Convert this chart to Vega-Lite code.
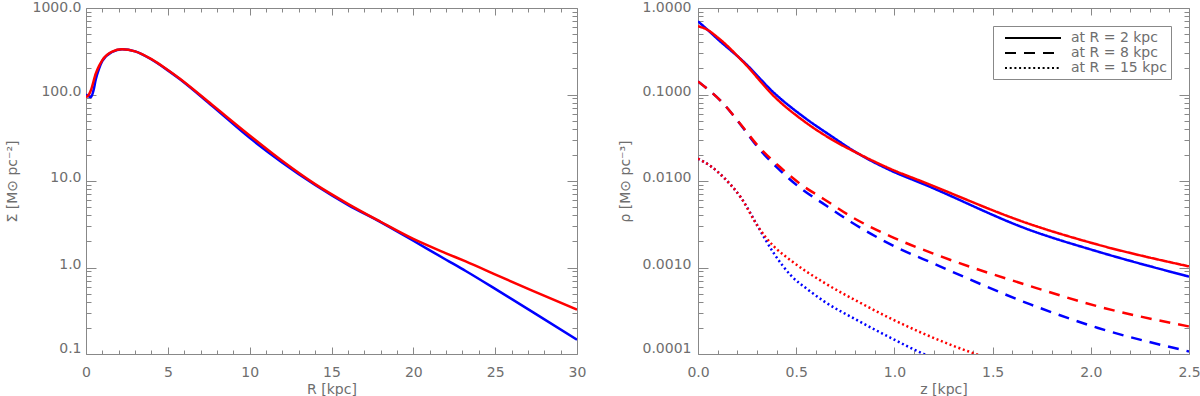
{
  "$schema": "https://vega.github.io/schema/vega-lite/v6.json",
  "padding": {"left": 5, "top": 0, "right": 5, "bottom": 0},
  "background": "white",
  "spacing": 32,
  "resolve": {"scale": {"strokeDash": "independent", "color": "independent"}, "legend": {"strokeDash": "independent", "color": "independent"}},
  "config": {
    "view": {"stroke": null},
    "font": "DejaVu Sans",
    "axis": {
      "domainColor": "#888888",
      "tickColor": "#888888",
      "labelColor": "#6e6e6e",
      "titleColor": "#6e6e6e",
      "labelFont": "DejaVu Sans",
      "titleFont": "DejaVu Sans",
      "labelFontSize": 14,
      "titleFontSize": 14,
      "titleFontWeight": "normal",
      "grid": false,
      "labelOverlap": false,
      "labelBound": false,
      "domainWidth": 1,
      "tickWidth": 1
    }
  },
  "datasets": {
    "sigma": [
      {"R": 0, "Sigma": 100, "model": "blue"},
      {"R": 0.3, "Sigma": 93, "model": "blue"},
      {"R": 0.45, "Sigma": 110, "model": "blue"},
      {"R": 0.6, "Sigma": 150, "model": "blue"},
      {"R": 0.8, "Sigma": 200, "model": "blue"},
      {"R": 1.0, "Sigma": 245, "model": "blue"},
      {"R": 1.6, "Sigma": 310, "model": "blue"},
      {"R": 2.2, "Sigma": 333, "model": "blue"},
      {"R": 3.0, "Sigma": 315, "model": "blue"},
      {"R": 4.0, "Sigma": 254, "model": "blue"},
      {"R": 5.0, "Sigma": 190, "model": "blue"},
      {"R": 5.7, "Sigma": 152, "model": "blue"},
      {"R": 7.7, "Sigma": 74, "model": "blue"},
      {"R": 10, "Sigma": 31.5, "model": "blue"},
      {"R": 12, "Sigma": 16.3, "model": "blue"},
      {"R": 14, "Sigma": 9.0, "model": "blue"},
      {"R": 16, "Sigma": 5.3, "model": "blue"},
      {"R": 18, "Sigma": 3.35, "model": "blue"},
      {"R": 20, "Sigma": 2.04, "model": "blue"},
      {"R": 22, "Sigma": 1.23, "model": "blue"},
      {"R": 23.2, "Sigma": 0.912, "model": "blue"},
      {"R": 25.2, "Sigma": 0.537, "model": "blue"},
      {"R": 27.3, "Sigma": 0.305, "model": "blue"},
      {"R": 30, "Sigma": 0.146, "model": "blue"},
      {"R": 0, "Sigma": 93, "model": "red"},
      {"R": 0.15, "Sigma": 98, "model": "red"},
      {"R": 0.3, "Sigma": 112, "model": "red"},
      {"R": 0.6, "Sigma": 175, "model": "red"},
      {"R": 0.8, "Sigma": 214, "model": "red"},
      {"R": 1.0, "Sigma": 250, "model": "red"},
      {"R": 1.6, "Sigma": 313, "model": "red"},
      {"R": 2.2, "Sigma": 333, "model": "red"},
      {"R": 3.0, "Sigma": 315, "model": "red"},
      {"R": 4.0, "Sigma": 256, "model": "red"},
      {"R": 5.0, "Sigma": 192, "model": "red"},
      {"R": 5.7, "Sigma": 154, "model": "red"},
      {"R": 7.7, "Sigma": 76, "model": "red"},
      {"R": 10, "Sigma": 33.6, "model": "red"},
      {"R": 12, "Sigma": 17.0, "model": "red"},
      {"R": 14, "Sigma": 9.2, "model": "red"},
      {"R": 16, "Sigma": 5.45, "model": "red"},
      {"R": 18, "Sigma": 3.38, "model": "red"},
      {"R": 20, "Sigma": 2.14, "model": "red"},
      {"R": 22, "Sigma": 1.46, "model": "red"},
      {"R": 23.2, "Sigma": 1.175, "model": "red"},
      {"R": 25.2, "Sigma": 0.80, "model": "red"},
      {"R": 27.3, "Sigma": 0.537, "model": "red"},
      {"R": 30, "Sigma": 0.325, "model": "red"}
    ],
    "rho": [
      {"z": 0, "rho": 0.701, "model": "blue", "profile": "at R = 2 kpc"},
      {"z": 0.05, "rho": 0.556, "model": "blue", "profile": "at R = 2 kpc"},
      {"z": 0.1, "rho": 0.437, "model": "blue", "profile": "at R = 2 kpc"},
      {"z": 0.236, "rho": 0.235, "model": "blue", "profile": "at R = 2 kpc"},
      {"z": 0.389, "rho": 0.1035, "model": "blue", "profile": "at R = 2 kpc"},
      {"z": 0.54, "rho": 0.0546, "model": "blue", "profile": "at R = 2 kpc"},
      {"z": 0.68, "rho": 0.0329, "model": "blue", "profile": "at R = 2 kpc"},
      {"z": 0.813, "rho": 0.0209, "model": "blue", "profile": "at R = 2 kpc"},
      {"z": 0.98, "rho": 0.01327, "model": "blue", "profile": "at R = 2 kpc"},
      {"z": 1.152, "rho": 0.00914, "model": "blue", "profile": "at R = 2 kpc"},
      {"z": 1.696, "rho": 0.00268, "model": "blue", "profile": "at R = 2 kpc"},
      {"z": 2.035, "rho": 0.00153, "model": "blue", "profile": "at R = 2 kpc"},
      {"z": 2.5, "rho": 0.000785, "model": "blue", "profile": "at R = 2 kpc"},
      {"z": 0, "rho": 0.614, "model": "red", "profile": "at R = 2 kpc"},
      {"z": 0.041, "rho": 0.571, "model": "red", "profile": "at R = 2 kpc"},
      {"z": 0.1, "rho": 0.457, "model": "red", "profile": "at R = 2 kpc"},
      {"z": 0.236, "rho": 0.2305, "model": "red", "profile": "at R = 2 kpc"},
      {"z": 0.389, "rho": 0.0944, "model": "red", "profile": "at R = 2 kpc"},
      {"z": 0.54, "rho": 0.0491, "model": "red", "profile": "at R = 2 kpc"},
      {"z": 0.68, "rho": 0.0303, "model": "red", "profile": "at R = 2 kpc"},
      {"z": 0.813, "rho": 0.0209, "model": "red", "profile": "at R = 2 kpc"},
      {"z": 0.98, "rho": 0.0138, "model": "red", "profile": "at R = 2 kpc"},
      {"z": 1.152, "rho": 0.00964, "model": "red", "profile": "at R = 2 kpc"},
      {"z": 1.696, "rho": 0.00314, "model": "red", "profile": "at R = 2 kpc"},
      {"z": 2.035, "rho": 0.00184, "model": "red", "profile": "at R = 2 kpc"},
      {"z": 2.5, "rho": 0.00103, "model": "red", "profile": "at R = 2 kpc"},
      {"z": 0, "rho": 0.1415, "model": "blue", "profile": "at R = 8 kpc"},
      {"z": 0.132, "rho": 0.0772, "model": "blue", "profile": "at R = 8 kpc"},
      {"z": 0.219, "rho": 0.0441, "model": "blue", "profile": "at R = 8 kpc"},
      {"z": 0.305, "rho": 0.0245, "model": "blue", "profile": "at R = 8 kpc"},
      {"z": 0.407, "rho": 0.014, "model": "blue", "profile": "at R = 8 kpc"},
      {"z": 0.524, "rho": 0.0082, "model": "blue", "profile": "at R = 8 kpc"},
      {"z": 0.652, "rho": 0.00521, "model": "blue", "profile": "at R = 8 kpc"},
      {"z": 0.779, "rho": 0.00336, "model": "blue", "profile": "at R = 8 kpc"},
      {"z": 0.983, "rho": 0.00184, "model": "blue", "profile": "at R = 8 kpc"},
      {"z": 1.212, "rho": 0.00108, "model": "blue", "profile": "at R = 8 kpc"},
      {"z": 1.696, "rho": 0.000372, "model": "blue", "profile": "at R = 8 kpc"},
      {"z": 2.037, "rho": 0.0002, "model": "blue", "profile": "at R = 8 kpc"},
      {"z": 2.5, "rho": 0.000107, "model": "blue", "profile": "at R = 8 kpc"},
      {"z": 0, "rho": 0.1415, "model": "red", "profile": "at R = 8 kpc"},
      {"z": 0.132, "rho": 0.0772, "model": "red", "profile": "at R = 8 kpc"},
      {"z": 0.219, "rho": 0.0447, "model": "red", "profile": "at R = 8 kpc"},
      {"z": 0.305, "rho": 0.0255, "model": "red", "profile": "at R = 8 kpc"},
      {"z": 0.407, "rho": 0.0152, "model": "red", "profile": "at R = 8 kpc"},
      {"z": 0.524, "rho": 0.00914, "model": "red", "profile": "at R = 8 kpc"},
      {"z": 0.652, "rho": 0.00596, "model": "red", "profile": "at R = 8 kpc"},
      {"z": 0.779, "rho": 0.00389, "model": "red", "profile": "at R = 8 kpc"},
      {"z": 0.983, "rho": 0.00228, "model": "red", "profile": "at R = 8 kpc"},
      {"z": 1.212, "rho": 0.00141, "model": "red", "profile": "at R = 8 kpc"},
      {"z": 1.696, "rho": 0.000605, "model": "red", "profile": "at R = 8 kpc"},
      {"z": 2.037, "rho": 0.000355, "model": "red", "profile": "at R = 8 kpc"},
      {"z": 2.5, "rho": 0.000208, "model": "red", "profile": "at R = 8 kpc"},
      {"z": 0, "rho": 0.01813, "model": "blue", "profile": "at R = 15 kpc"},
      {"z": 0.066, "rho": 0.01476, "model": "blue", "profile": "at R = 15 kpc"},
      {"z": 0.132, "rho": 0.01092, "model": "blue", "profile": "at R = 15 kpc"},
      {"z": 0.219, "rho": 0.0064, "model": "blue", "profile": "at R = 15 kpc"},
      {"z": 0.305, "rho": 0.00298, "model": "blue", "profile": "at R = 15 kpc"},
      {"z": 0.346, "rho": 0.00205, "model": "blue", "profile": "at R = 15 kpc"},
      {"z": 0.387, "rho": 0.00145, "model": "blue", "profile": "at R = 15 kpc"},
      {"z": 0.474, "rho": 0.000805, "model": "blue", "profile": "at R = 15 kpc"},
      {"z": 0.56, "rho": 0.000554, "model": "blue", "profile": "at R = 15 kpc"},
      {"z": 0.642, "rho": 0.000406, "model": "blue", "profile": "at R = 15 kpc"},
      {"z": 0.815, "rho": 0.000243, "model": "blue", "profile": "at R = 15 kpc"},
      {"z": 0.983, "rho": 0.000153, "model": "blue", "profile": "at R = 15 kpc"},
      {"z": 1.151, "rho": 0.0000998, "model": "blue", "profile": "at R = 15 kpc"},
      {"z": 1.212, "rho": 0.000088, "model": "blue", "profile": "at R = 15 kpc"},
      {"z": 0, "rho": 0.01813, "model": "red", "profile": "at R = 15 kpc"},
      {"z": 0.066, "rho": 0.01476, "model": "red", "profile": "at R = 15 kpc"},
      {"z": 0.132, "rho": 0.01092, "model": "red", "profile": "at R = 15 kpc"},
      {"z": 0.219, "rho": 0.0064, "model": "red", "profile": "at R = 15 kpc"},
      {"z": 0.305, "rho": 0.00298, "model": "red", "profile": "at R = 15 kpc"},
      {"z": 0.346, "rho": 0.00222, "model": "red", "profile": "at R = 15 kpc"},
      {"z": 0.387, "rho": 0.00175, "model": "red", "profile": "at R = 15 kpc"},
      {"z": 0.474, "rho": 0.0012, "model": "red", "profile": "at R = 15 kpc"},
      {"z": 0.642, "rho": 0.000668, "model": "red", "profile": "at R = 15 kpc"},
      {"z": 0.815, "rho": 0.000403, "model": "red", "profile": "at R = 15 kpc"},
      {"z": 0.983, "rho": 0.000256, "model": "red", "profile": "at R = 15 kpc"},
      {"z": 1.151, "rho": 0.000171, "model": "red", "profile": "at R = 15 kpc"},
      {"z": 1.426, "rho": 0.000098, "model": "red", "profile": "at R = 15 kpc"},
      {"z": 1.49, "rho": 0.000088, "model": "red", "profile": "at R = 15 kpc"}
    ]
  },
  "hconcat": [
    {
      "width": 491,
      "height": 346,
      "data": {"name": "sigma"},
      "layer": [
        {
          "transform": [{"filter": "datum.model === 'blue'"}],
          "mark": {"type": "line", "strokeWidth": 2.5, "interpolate": "monotone", "clip": true},
          "encoding": {
            "x": {
              "field": "R", "type": "quantitative",
              "scale": {"domain": [0, 30], "nice": false, "zero": false},
              "axis": {
                "orient": "bottom", "title": "R [kpc]",
                "values": [0,1,2,3,4,5,6,7,8,9,10,11,12,13,14,15,16,17,18,19,20,21,22,23,24,25,26,27,28,29,30],
                "format": "d",
                "labelExpr": "datum.value % 5 === 0 ? datum.label : ''",
                "tickSize": -7,
                "tickDash": {"condition": {"test": "datum.value % 5 !== 0", "value": [4, 30]}, "value": [30, 0]},
                "labelPadding": 18, "titlePadding": 3, "labelFlush": false
              }
            },
            "y": {
              "field": "Sigma", "type": "quantitative",
              "scale": {"type": "log", "domain": [0.1, 1000], "nice": false},
              "axis": {
                "orient": "left", "title": "Σ [M⊙ pc⁻²]",
                "values": [0.1,0.2,0.3,0.4,0.5,0.6,0.7,0.8,0.9,1,2,3,4,5,6,7,8,9,10,20,30,40,50,60,70,80,90,100,200,300,400,500,600,700,800,900,1000],
                "format": ".1f",
                "labelExpr": "abs(log(datum.value)/LN10 - round(log(datum.value)/LN10)) > 0.01 ? '' : datum.label",
                "tickSize": -10,
                "tickDash": {"condition": {"test": "abs(log(datum.value)/LN10 - round(log(datum.value)/LN10)) > 0.01", "value": [5, 30]}, "value": [30, 0]},
                "labelPadding": 15, "titlePadding": 13, "labelFlush": true, "labelFlushOffset": 4.5, "labelOffset": -3.5
              }
            },
            "color": {"field": "model", "type": "nominal", "scale": {"domain": ["blue", "red"], "range": ["#0000ff", "#ff0000"]}, "legend": null}
          }
        },
        {
          "transform": [{"filter": "datum.model === 'red'"}],
          "mark": {"type": "line", "strokeWidth": 2.5, "interpolate": "monotone", "clip": true},
          "encoding": {
            "x": {
              "field": "R", "type": "quantitative",
              "axis": {
                "orient": "top", "title": null, "labels": false,
                "values": [0,1,2,3,4,5,6,7,8,9,10,11,12,13,14,15,16,17,18,19,20,21,22,23,24,25,26,27,28,29,30],
                "tickSize": -7,
                "tickDash": {"condition": {"test": "datum.value % 5 !== 0", "value": [4, 30]}, "value": [30, 0]}
              }
            },
            "y": {
              "field": "Sigma", "type": "quantitative",
              "axis": {
                "orient": "right", "title": null, "labels": false,
                "values": [0.1,0.2,0.3,0.4,0.5,0.6,0.7,0.8,0.9,1,2,3,4,5,6,7,8,9,10,20,30,40,50,60,70,80,90,100,200,300,400,500,600,700,800,900,1000],
                "tickSize": -10,
                "tickDash": {"condition": {"test": "abs(log(datum.value)/LN10 - round(log(datum.value)/LN10)) > 0.01", "value": [5, 30]}, "value": [30, 0]}
              }
            },
            "color": {"field": "model", "type": "nominal", "legend": null}
          }
        }
      ],
      "resolve": {"axis": {"x": "independent", "y": "independent"}}
    },
    {
      "width": 491,
      "height": 346,
      "data": {"name": "rho"},
      "layer": [
        {
          "transform": [{"filter": "datum.model === 'blue'"}],
          "mark": {"type": "line", "strokeWidth": 2.5, "interpolate": "monotone", "clip": true},
          "encoding": {
            "x": {
              "field": "z", "type": "quantitative",
              "scale": {"domain": [0, 2.5], "nice": false, "zero": false},
              "axis": {
                "orient": "bottom", "title": "z [kpc]",
                "values": [0,0.1,0.2,0.3,0.4,0.5,0.6,0.7,0.8,0.9,1,1.1,1.2,1.3,1.4,1.5,1.6,1.7,1.8,1.9,2,2.1,2.2,2.3,2.4,2.5],
                "format": ".1f",
                "labelExpr": "abs(datum.value*2 - round(datum.value*2)) > 0.001 ? '' : datum.label",
                "tickSize": -7,
                "tickDash": {"condition": {"test": "abs(datum.value*2 - round(datum.value*2)) > 0.001", "value": [4, 30]}, "value": [30, 0]},
                "labelPadding": 18, "titlePadding": 3, "labelFlush": false
              }
            },
            "y": {
              "field": "rho", "type": "quantitative",
              "scale": {"type": "log", "domain": [0.0001, 1], "nice": false},
              "axis": {
                "orient": "left", "title": "ρ [M⊙ pc⁻³]",
                "values": [0.0001,0.0002,0.0003,0.0004,0.0005,0.0006,0.0007,0.0008,0.0009,0.001,0.002,0.003,0.004,0.005,0.006,0.007,0.008,0.009,0.01,0.02,0.03,0.04,0.05,0.06,0.07,0.08,0.09,0.1,0.2,0.3,0.4,0.5,0.6,0.7,0.8,0.9,1],
                "format": ".4f",
                "labelExpr": "abs(log(datum.value)/LN10 - round(log(datum.value)/LN10)) > 0.01 ? '' : datum.label",
                "tickSize": -10,
                "tickDash": {"condition": {"test": "abs(log(datum.value)/LN10 - round(log(datum.value)/LN10)) > 0.01", "value": [5, 30]}, "value": [30, 0]},
                "labelPadding": 17, "titlePadding": 10, "labelFlush": true, "labelFlushOffset": 4.5, "labelOffset": -3.5
              }
            },
            "color": {"field": "model", "type": "nominal", "scale": {"domain": ["blue", "red"], "range": ["#0000ff", "#ff0000"]}, "legend": null},
            "strokeDash": {
              "field": "profile", "type": "nominal",
              "scale": {"domain": ["at R = 2 kpc", "at R = 8 kpc", "at R = 15 kpc"], "range": [[1, 0], [11, 8], [2, 2.7]]},
              "legend": {
                "title": null, "orient": "none", "legendX": 295, "legendY": 18,
                "symbolType": "M0,0H8", "symbolSize": 196, "symbolStrokeWidth": 2,
                "symbolStrokeColor": "black", "symbolFillColor": "transparent",
                "labelFontSize": 14, "labelColor": "#6e6e6e", "labelFont": "DejaVu Sans", "labelOffset": 58,
                "strokeColor": "#888888", "fillColor": "white", "padding": 4, "rowPadding": -5
              }
            }
          }
        },
        {
          "transform": [{"filter": "datum.model === 'red'"}],
          "mark": {"type": "line", "strokeWidth": 2.5, "interpolate": "monotone", "clip": true},
          "encoding": {
            "x": {
              "field": "z", "type": "quantitative",
              "axis": {
                "orient": "top", "title": null, "labels": false,
                "values": [0,0.1,0.2,0.3,0.4,0.5,0.6,0.7,0.8,0.9,1,1.1,1.2,1.3,1.4,1.5,1.6,1.7,1.8,1.9,2,2.1,2.2,2.3,2.4,2.5],
                "tickSize": -7,
                "tickDash": {"condition": {"test": "abs(datum.value*2 - round(datum.value*2)) > 0.001", "value": [4, 30]}, "value": [30, 0]}
              }
            },
            "y": {
              "field": "rho", "type": "quantitative",
              "axis": {
                "orient": "right", "title": null, "labels": false,
                "values": [0.0001,0.0002,0.0003,0.0004,0.0005,0.0006,0.0007,0.0008,0.0009,0.001,0.002,0.003,0.004,0.005,0.006,0.007,0.008,0.009,0.01,0.02,0.03,0.04,0.05,0.06,0.07,0.08,0.09,0.1,0.2,0.3,0.4,0.5,0.6,0.7,0.8,0.9,1],
                "tickSize": -10,
                "tickDash": {"condition": {"test": "abs(log(datum.value)/LN10 - round(log(datum.value)/LN10)) > 0.01", "value": [5, 30]}, "value": [30, 0]}
              }
            },
            "color": {"field": "model", "type": "nominal", "legend": null},
            "strokeDash": {
              "field": "profile", "type": "nominal",
              "legend": {
                "title": null, "orient": "none", "legendX": 295, "legendY": 18,
                "symbolType": "M0,0H8", "symbolSize": 196, "symbolStrokeWidth": 2,
                "symbolStrokeColor": "black", "symbolFillColor": "transparent",
                "labelFontSize": 14, "labelColor": "#6e6e6e", "labelFont": "DejaVu Sans", "labelOffset": 58,
                "strokeColor": "#888888", "fillColor": "white", "padding": 4, "rowPadding": -5
              }
            }
          }
        }
      ],
      "resolve": {"axis": {"x": "independent", "y": "independent"}}
    }
  ]
}
